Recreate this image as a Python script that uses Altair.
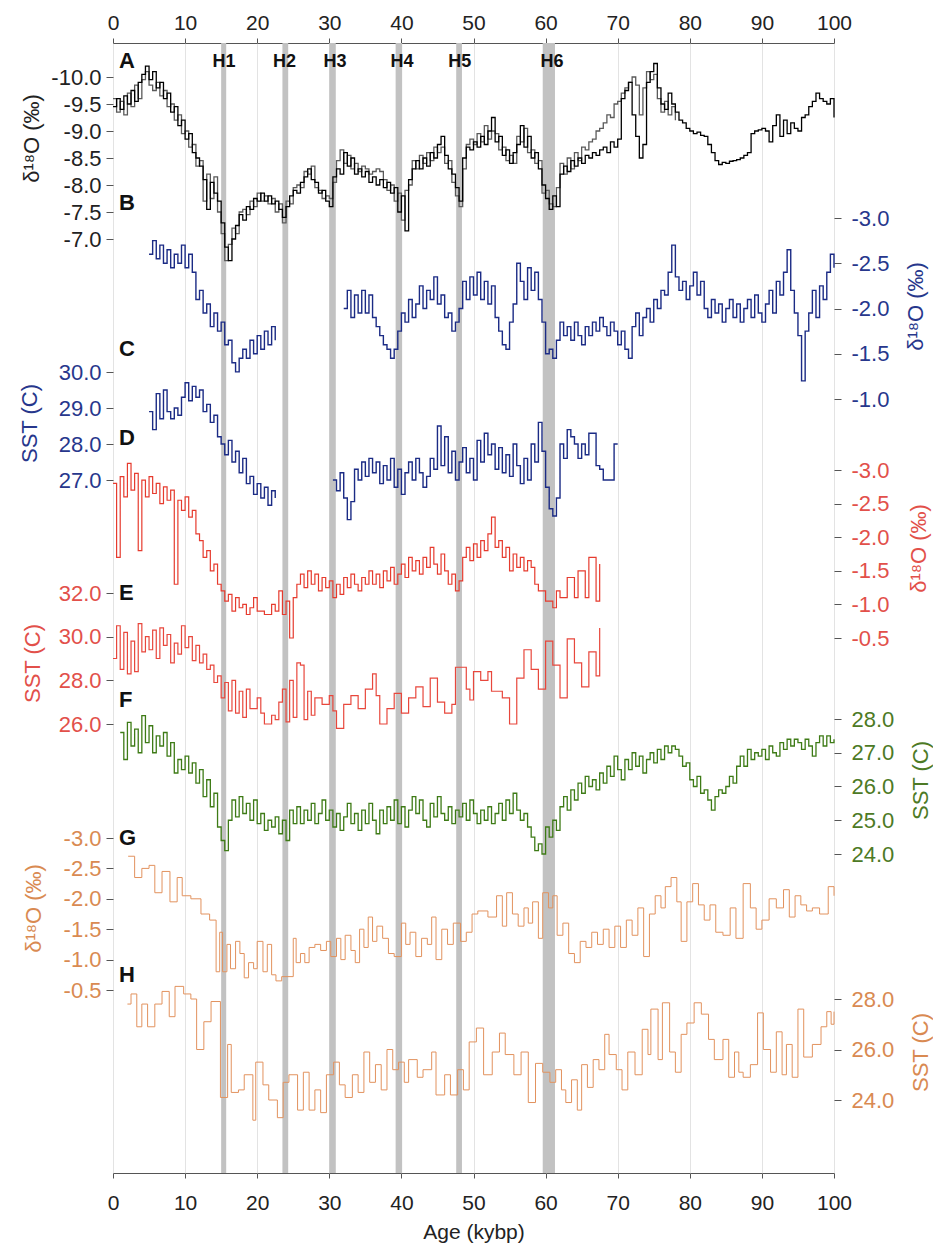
import altair as alt
import pandas as pd

FONT = "Liberation Sans"

# ---------------- data ----------------
AGE_TICKS = [0, 10, 20, 30, 40, 50, 60, 70, 80, 90, 100]
EVENT_NAMES = ["H1", "H2", "H3", "H4", "H5", "H6"]
EVENT_START = [15.0, 23.5, 30.0, 39.2, 47.6, 59.6]
EVENT_END = [15.7, 24.3, 30.9, 40.1, 48.4, 61.3]
EVENT_LABEL_AGE = [15.4, 23.8, 30.8, 40.1, 48.1, 60.9]
PANEL_LETTERS = ["A", "B", "C", "D", "E", "F", "G", "H"]

A_TICKS = [-10.0, -9.5, -9.0, -8.5, -8.0, -7.5, -7.0]
B_TICKS = [-3.0, -2.5, -2.0, -1.5, -1.0]
C_TICKS = [30.0, 29.0, 28.0, 27.0]
D_TICKS = [-3.0, -2.5, -2.0, -1.5, -1.0, -0.5]
E_TICKS = [32.0, 30.0, 28.0, 26.0]
F_TICKS = [28.0, 27.0, 26.0, 25.0, 24.0]
G_TICKS = [-3.0, -2.5, -2.0, -1.5, -1.0, -0.5]
H_TICKS = [28.0, 26.0, 24.0]

# A: d18O record (two overlapping curves)
A1 = [(0,-9.45),(0.5,-9.6),(1,-9.4),(1.5,-9.65),(2,-9.5),(2.5,-9.75),(3,-9.55),(3.5,-9.9),(4,-10.05),(4.5,-10.2),
(5,-9.95),(5.5,-10.1),(6,-9.8),(6.5,-9.9),(7,-9.6),(7.5,-9.7),(8,-9.35),(8.5,-9.45),(9,-9.1),(9.5,-9.2),
(10,-8.85),(10.5,-8.95),(11,-8.6),(11.5,-8.5),(12,-8.35),(12.5,-8.1),(13,-7.55),(13.5,-8.05),(14,-7.85),(14.5,-7.7),
(15,-7.3),(15.5,-6.85),(16,-6.6),(16.5,-7.0),(17,-7.25),(17.5,-7.45),(18,-7.35),(18.5,-7.6),(19,-7.55),(19.5,-7.75),
(20,-7.7),(20.5,-7.85),(21,-7.7),(21.5,-7.8),(22,-7.65),(22.5,-7.7),(23,-7.55),(23.5,-7.4),(24,-7.6),(24.5,-7.8),
(25,-7.9),(25.5,-7.85),(26,-8.05),(26.5,-8.15),(27,-8.3),(27.5,-8.1),(28,-8.05),(28.5,-7.85),(29,-7.9),(29.5,-7.7),
(30,-7.6),(30.5,-8.15),(31,-8.3),(31.5,-8.2),(32,-8.6),(32.5,-8.35),(33,-8.5),(33.5,-8.2),(34,-8.3),(34.5,-8.15),
(35,-8.25),(35.5,-8.05),(36,-8.15),(36.5,-8.0),(37,-8.1),(37.5,-7.95),(38,-8.05),(38.5,-7.85),(39,-7.95),(39.5,-7.5),
(40,-7.8),(40.5,-7.15),(41,-8.1),(41.5,-8.3),(42,-8.45),(42.5,-8.3),(43,-8.5),(43.5,-8.35),(44,-8.6),(44.5,-8.5),
(45,-8.75),(45.5,-8.9),(46,-8.55),(46.5,-8.3),(47,-8.2),(47.5,-7.95),(48,-7.7),(48.5,-8.5),(49,-8.7),(49.5,-8.65),
(50,-8.8),(50.5,-8.7),(51,-8.9),(51.5,-8.75),(52,-9.0),(52.5,-9.25),(53,-8.8),(53.5,-8.9),(54,-8.55),(54.5,-8.65),
(55,-8.4),(55.5,-8.6),(56,-8.75),(56.5,-9.1),(57,-8.7),(57.5,-8.9),(58,-8.5),(58.5,-8.6),(59,-8.3),(59.5,-8.0),
(60,-7.75),(60.5,-7.55),(61,-7.8),(61.5,-7.6),(62,-8.2),(62.5,-8.35),(63,-8.25),(63.5,-8.45),(64,-8.35),(64.5,-8.5),
(65,-8.4),(65.5,-8.55),(66,-8.5),(66.5,-8.6),(67,-8.55),(67.5,-8.65),(68,-8.7),(68.5,-8.6),(69,-8.8),(69.5,-8.7),
(70,-8.85),(70.5,-9.6),(71,-9.75),(71.5,-9.9),(72,-9.3),(72.5,-8.9),(73,-8.5),(73.5,-8.75),(74,-9.9),(74.5,-10.1),
(75,-10.25),(75.5,-9.8),(76,-9.5),(76.5,-9.4),(77,-9.7),(77.5,-9.5),(78,-9.35),(78.5,-9.2),(79,-9.15),(79.5,-9.05),
(80,-9.0),(80.5,-8.95),(81,-8.98),(81.5,-8.92),(82,-8.9),(82.5,-8.75),(83,-8.6),(83.5,-8.45),(84,-8.38),(84.5,-8.42),
(85,-8.4),(85.5,-8.44),(86,-8.45),(86.5,-8.47),(87,-8.5),(87.5,-8.55),(88,-8.6),(88.5,-8.95),(89,-9.0),(89.5,-9.02),
(90,-9.05),(90.5,-9.0),(91,-8.8),(91.5,-9.1),(92,-9.3),(92.5,-8.9),(93,-9.2),(93.5,-8.95),(94,-9.15),(94.5,-9.05),
(95,-9.0),(95.5,-9.25),(96,-9.3),(96.5,-9.45),(97,-9.55),(97.5,-9.7),(98,-9.6),(98.5,-9.55),(99,-9.5),(99.5,-9.6),(100,-9.25)]

A2 = [(0,-9.6),(0.5,-9.35),(1,-9.55),(1.5,-9.3),(2,-9.7),(2.5,-9.45),(3,-9.85),(3.5,-9.6),(4,-9.95),(4.5,-10.1),
(5,-9.85),(5.5,-9.75),(6,-9.9),(6.5,-9.65),(7,-9.75),(7.5,-9.45),(8,-9.5),(8.5,-9.2),(9,-9.3),(9.5,-8.95),
(10,-9.0),(10.5,-8.7),(11,-8.75),(11.5,-8.35),(12,-8.45),(12.5,-7.7),(13,-8.2),(13.5,-7.75),(14,-8.15),(14.5,-7.5),
(15,-7.1),(15.5,-6.6),(16,-6.9),(16.5,-7.2),(17,-7.1),(17.5,-7.5),(18,-7.55),(18.5,-7.45),(19,-7.7),(19.5,-7.6),
(20,-7.85),(20.5,-7.7),(21,-7.8),(21.5,-7.65),(22,-7.75),(22.5,-7.5),(23,-7.65),(23.5,-7.3),(24,-7.7),(24.5,-7.65),
(25,-7.95),(25.5,-8.0),(26,-7.95),(26.5,-8.25),(27,-8.2),(27.5,-8.35),(28,-7.95),(28.5,-7.9),(29,-7.75),(29.5,-7.8),
(30,-7.75),(30.5,-8.05),(31,-8.45),(31.5,-8.65),(32,-8.4),(32.5,-8.55),(33,-8.3),(33.5,-8.4),(34,-8.25),(34.5,-8.35),
(35,-8.3),(35.5,-8.2),(36,-8.25),(36.5,-8.3),(37,-8.25),(37.5,-8.1),(38,-7.9),(38.5,-8.0),(39,-7.7),(39.5,-7.85),
(40,-7.35),(40.5,-7.9),(41,-8.0),(41.5,-8.45),(42,-8.3),(42.5,-8.55),(43,-8.4),(43.5,-8.6),(44,-8.45),(44.5,-8.7),
(45,-8.6),(45.5,-8.7),(46,-8.4),(46.5,-8.45),(47,-8.05),(47.5,-7.8),(48,-7.6),(48.5,-8.3),(49,-8.75),(49.5,-8.85),
(50,-8.75),(50.5,-8.95),(51,-8.8),(51.5,-9.1),(52,-8.85),(52.5,-9.0),(53,-8.95),(53.5,-8.65),(54,-8.7),(54.5,-8.45),
(55,-8.55),(55.5,-8.4),(56,-8.9),(56.5,-8.8),(57,-9.05),(57.5,-8.6),(58,-8.65),(58.5,-8.4),(59,-8.45),(59.5,-7.85),
(60,-7.9),(60.5,-7.65),(61,-7.6),(61.5,-7.95),(62,-8.4),(62.5,-8.2),(63,-8.5),(63.5,-8.3),(64,-8.6),(64.5,-8.45),
(65,-8.7),(65.5,-8.65),(66,-8.8),(66.5,-8.85),(67,-9.0),(67.5,-9.05),(68,-9.15),(68.5,-9.3),(69,-9.25),(69.5,-9.5),
(70,-9.55),(70.5,-9.7),(71,-9.8),(71.5,-9.9),(72,-10.0),(72.5,-9.85),(73,-9.3),(73.5,-9.8),(74,-10.1),(74.5,-9.95),
(75,-10.05),(75.5,-9.6),(76,-9.35),(76.5,-9.55),(77,-9.3),(77.5,-9.45),(78,-9.2)]

# B: d18O (two sections)
B1 = [(5,-2.6),(5.5,-2.75),(6,-2.55),(6.5,-2.7),(7,-2.5),(7.5,-2.65),(8,-2.45),(8.5,-2.6),(9,-2.5),(9.5,-2.7),
(10,-2.45),(10.5,-2.6),(11,-2.4),(11.5,-2.1),(12,-2.2),(12.5,-1.95),(13,-2.05),(13.5,-1.8),(14,-1.95),(14.5,-1.75),
(15,-1.85),(15.5,-1.6),(16,-1.65),(16.5,-1.4),(17,-1.3),(17.5,-1.45),(18,-1.55),(18.5,-1.45),(19,-1.65),(19.5,-1.5),
(20,-1.7),(20.5,-1.55),(21,-1.75),(21.5,-1.6),(22,-1.8),(22.5,-1.65)]
B2 = [(32,-2.0),(32.5,-2.2),(33,-1.9),(33.5,-2.15),(34,-1.95),(34.5,-2.2),(35,-1.95),(35.5,-2.15),(36,-1.9),(36.5,-1.8),
(37,-1.7),(37.5,-1.6),(38,-1.55),(38.5,-1.45),(39,-1.55),(39.5,-1.75),(40,-1.95),(40.5,-1.85),(41,-2.1),(41.5,-1.9),
(42,-2.05),(42.5,-2.25),(43,-2.0),(43.5,-2.2),(44,-2.1),(44.5,-2.35),(45,-2.05),(45.5,-2.15),(46,-1.9),(46.5,-1.95),
(47,-1.75),(47.5,-1.85),(48,-2.0),(48.5,-2.3),(49,-2.1),(49.5,-2.35),(50,-2.15),(50.5,-2.4),(51,-2.1),(51.5,-2.3),
(52,-2.05),(52.5,-2.25),(53,-1.9),(53.5,-1.75),(54,-1.6),(54.5,-1.55),(55,-1.85),(55.5,-2.05),(56,-2.5),(56.5,-2.3),
(57,-2.1),(57.5,-2.45),(58,-2.2),(58.5,-2.4),(59,-2.1),(59.5,-1.85),(60,-1.5),(60.5,-1.55),(61,-1.45),(61.5,-1.65),
(62,-1.85),(62.5,-1.7),(63,-1.8),(63.5,-1.65),(64,-1.85),(64.5,-1.7),(65,-1.6),(65.5,-1.8),(66,-1.7),(66.5,-1.85),
(67,-1.75),(67.5,-1.9),(68,-1.8),(68.5,-1.7),(69,-1.85),(69.5,-1.75),(70,-1.6),(70.5,-1.75),(71,-1.55),(71.5,-1.45),
(72,-1.8),(72.5,-1.95),(73,-1.7),(73.5,-1.9),(74,-2.0),(74.5,-1.85),(75,-2.1),(75.5,-2.0),(76,-2.2),(76.5,-2.15),
(77,-2.4),(77.5,-2.7),(78,-2.35),(78.5,-2.2),(79,-2.3),(79.5,-2.1),(80,-2.25),(80.5,-2.4),(81,-2.15),(81.5,-2.3),
(82,-2.0),(82.5,-1.9),(83,-2.1),(83.5,-1.95),(84,-2.05),(84.5,-1.85),(85,-2.0),(85.5,-2.1),(86,-1.9),(86.5,-2.05),
(87,-1.85),(87.5,-2.0),(88,-2.1),(88.5,-1.9),(89,-2.15),(89.5,-1.95),(90,-1.85),(90.5,-2.05),(91,-2.2),(91.5,-1.95),
(92,-2.3),(92.5,-2.15),(93,-2.4),(93.5,-2.65),(94,-2.2),(94.5,-1.95),(95,-1.7),(95.5,-1.2),(96,-1.75),(96.5,-1.95),
(97,-2.2),(97.5,-1.9),(98,-2.25),(98.5,-2.1),(99,-2.4),(99.5,-2.6),(100,-2.45)]

# C: SST (two sections)
C1 = [(5,28.9),(5.5,28.4),(6,29.4),(6.5,28.7),(7,29.5),(7.5,28.9),(8,28.7),(8.5,29.0),(9,28.8),(9.5,29.3),
(10,29.7),(10.5,29.2),(11,29.6),(11.5,29.3),(12,29.5),(12.5,28.9),(13,29.1),(13.5,28.6),(14,28.8),(14.5,28.2),
(15,28.0),(15.5,27.7),(16,28.1),(16.5,27.5),(17,27.8),(17.5,27.2),(18,27.6),(18.5,26.9),(19,27.1),(19.5,26.6),
(20,26.9),(20.5,26.5),(21,26.8),(21.5,26.3),(22,26.7),(22.5,26.5)]
C2 = [(30.5,27.0),(31,26.7),(31.5,27.2),(32,26.5),(32.5,25.9),(33,26.4),(33.5,27.3),(34,27.0),(34.5,27.5),(35,27.1),
(35.5,27.6),(36,27.2),(36.5,27.5),(37,26.9),(37.5,27.4),(38,27.0),(38.5,27.6),(39,26.8),(39.5,27.3),(40,26.6),
(40.5,27.2),(41,27.5),(41.5,27.0),(42,27.6),(42.5,27.2),(43,26.8),(43.5,27.1),(44,27.6),(44.5,27.3),(45,28.5),
(45.5,27.4),(46,28.2),(46.5,27.2),(47,27.8),(47.5,27.0),(48,27.5),(48.5,27.9),(49,27.2),(49.5,27.6),(50,27.0),
(50.5,28.1),(51,27.5),(51.5,28.3),(52,27.7),(52.5,28.0),(53,27.3),(53.5,27.9),(54,27.2),(54.5,27.7),(55,27.1),
(55.5,28.0),(56,27.4),(56.5,26.9),(57,27.6),(57.5,27.0),(58,28.0),(58.5,27.5),(59,28.6),(59.5,27.8),(60,26.8),
(60.5,26.2),(61,26.0),(61.5,26.5),(62,28.0),(62.5,27.6),(63,28.4),(63.5,28.2),(64,28.0),(64.5,27.6),(65,28.0),
(65.5,27.7),(66,28.3),(66.5,28.3),(67,27.4),(67.5,27.3),(68,27.0),(68.5,27.0),(69,27.0),(69.5,28.0),(70,28.0)]

# D: d18O
D = [(0,-2.8),(0.5,-1.7),(1,-2.9),(1.5,-2.6),(2,-3.1),(2.5,-2.7),(3,-2.95),(3.5,-1.8),(4,-2.85),(4.5,-2.6),
(5,-2.9),(5.5,-2.65),(6,-2.8),(6.5,-2.5),(7,-2.75),(7.5,-2.55),(8,-2.7),(8.5,-1.3),(9,-2.55),(9.5,-2.4),
(10,-2.6),(10.5,-2.3),(11,-2.4),(11.5,-2.05),(12,-1.95),(12.5,-1.7),(13,-1.8),(13.5,-1.5),(14,-1.6),(14.5,-1.3),
(15,-1.2),(15.5,-1.05),(16,-1.15),(16.5,-0.9),(17,-1.1),(17.5,-0.95),(18,-1.0),(18.5,-0.85),(19,-0.95),(19.5,-1.1),
(20,-0.9),(21,-0.85),(22,-1.0),(22.5,-0.9),(23,-1.2),(23.5,-0.85),(24,-1.05),(24.5,-0.5),(25,-1.1),(25.5,-1.3),
(26,-1.45),(26.5,-1.25),(27,-1.5),(27.5,-1.3),(28,-1.45),(28.5,-1.2),(29,-1.4),(29.5,-1.25),(30,-1.35),(30.5,-1.1),
(31,-1.3),(31.5,-1.15),(32,-1.4),(32.5,-1.25),(33,-1.45),(33.5,-1.3),(34,-1.2),(34.5,-1.4),(35,-1.3),(35.5,-1.5),
(36,-1.3),(36.5,-1.45),(37,-1.25),(37.5,-1.5),(38,-1.35),(38.5,-1.55),(39,-1.3),(39.5,-1.45),(40,-1.6),(40.5,-1.4),
(41,-1.7),(41.5,-1.5),(42,-1.65),(42.5,-1.45),(43,-1.7),(43.5,-1.55),(44,-1.85),(44.5,-1.6),(45,-1.45),(45.5,-1.75),
(46,-1.5),(46.5,-1.3),(47,-1.45),(47.5,-1.2),(48,-1.35),(48.5,-1.7),(49,-1.85),(49.5,-1.65),(50,-1.9),(50.5,-1.7),
(51,-1.95),(51.5,-1.8),(52,-2.05),(52.5,-2.3),(53,-1.85),(53.5,-1.95),(54,-1.7),(54.5,-1.85),(55,-1.5),(55.5,-1.75),
(56,-1.55),(56.5,-1.7),(57,-1.5),(57.5,-1.65),(58,-1.55),(58.5,-1.3),(59,-1.2),(60,-1.05),(61,-0.95),(61.5,-1.2),
(62,-1.1),(63,-1.4),(64,-1.1),(64.5,-1.5),(65.5,-1.1),(66,-1.7),(67,-1.05),(67.5,-1.6)]

# E: SST
E = [(0,29.0),(0.5,30.5),(1,28.5),(1.5,30.2),(2,28.3),(2.5,29.8),(3,28.4),(3.5,30.6),(4,29.3),(4.5,30.0),
(5,29.4),(5.5,30.3),(6,29.0),(6.5,30.4),(7,29.6),(7.5,30.1),(8,28.8),(8.5,29.7),(9,29.2),(9.5,30.5),
(10,29.5),(10.5,30.0),(11,28.9),(11.5,29.6),(12,28.8),(12.5,29.2),(13,28.5),(13.5,28.7),(14,27.9),(14.5,28.2),
(15,27.2),(15.5,27.9),(16,26.6),(16.5,28.0),(17,26.5),(17.5,27.5),(18,26.3),(18.5,27.6),(19,26.7),(20,27.2),
(20.5,26.5),(21,26.0),(22,26.4),(22.5,26.2),(23,27.0),(23.5,27.6),(24,26.1),(24.5,28.0),(25,26.3),(25.5,28.8),
(26,28.7),(26.5,26.2),(27,27.5),(27.5,26.4),(28,27.2),(29,26.9),(30,27.3),(30.5,26.6),(31,25.8),(32,26.9),
(33,27.3),(34,26.7),(35,27.6),(36,28.3),(36.5,27.3),(37,26.0),(38,26.7),(39,27.4),(40,26.5),(41,27.2),
(42,27.7),(43,26.8),(44,28.1),(45,27.0),(46,26.5),(47,26.9),(47.5,28.6),(49,27.6),(49.5,27.1),(50,28.4),
(51,28.0),(52,28.4),(52.5,27.5),(54,27.2),(55,26.0),(56,28.1),(57,29.4),(58,28.5),(59,27.6),(60,29.8),
(61,28.7),(62,27.2),(63,29.9),(64,28.8),(65,27.7),(66,29.3),(67,28.2),(67.5,30.4)]

# F: SST
F = [(1,27.6),(1.5,26.8),(2,27.9),(2.5,27.2),(3,27.7),(3.5,27.0),(4,28.1),(4.5,27.3),(5,27.8),(5.5,27.0),
(6,27.5),(6.5,27.2),(7,27.6),(7.5,26.9),(8,27.3),(8.5,26.4),(9,26.8),(9.5,26.5),(10,26.9),(10.5,26.4),
(11,26.7),(11.5,26.1),(12,26.5),(12.5,25.7),(13,26.2),(13.5,25.4),(14,25.8),(14.5,24.8),(15,24.4),(15.5,24.1),
(16,25.0),(16.5,25.6),(17,25.1),(17.5,25.7),(18,25.2),(18.5,25.5),(19,25.0),(19.5,25.6),(20,24.9),(20.5,25.2),
(21,24.7),(21.5,25.0),(22,24.8),(22.5,25.1),(23,24.6),(23.5,25.0),(24,24.4),(24.5,25.3),(25,24.9),(25.5,25.4),
(26,24.9),(26.5,25.3),(27,25.0),(27.5,25.5),(28,24.9),(28.5,25.2),(29,25.6),(29.5,25.0),(30,25.3),(30.5,24.8),
(31,25.2),(31.5,24.7),(32,25.1),(32.5,25.5),(33,24.9),(33.5,25.2),(34,24.7),(34.5,25.3),(35,24.9),(35.5,25.5),
(36,25.0),(36.5,24.6),(37,25.3),(37.5,24.9),(38,25.4),(38.5,25.0),(39,25.6),(39.5,24.9),(40,25.4),(40.5,24.8),
(41,25.3),(41.5,25.7),(42,25.2),(42.5,25.6),(43,25.0),(43.5,24.8),(44,25.5),(44.5,25.1),(45,25.7),(45.5,25.2),
(46,25.0),(46.5,25.4),(47,24.9),(47.5,25.3),(48,25.1),(48.5,25.5),(49,25.0),(49.5,25.6),(50,25.2),(50.5,24.9),
(51,25.3),(51.5,25.0),(52,25.4),(52.5,24.9),(53,25.2),(53.5,25.5),(54,25.0),(54.5,25.6),(55,25.2),(55.5,25.8),
(56,25.3),(56.5,25.0),(57,25.2),(57.5,24.8),(58,24.5),(58.5,24.1),(59,24.3),(59.5,24.0),(60,24.8),(60.5,24.5),
(61,25.0),(61.5,24.7),(62,25.4),(62.5,25.7),(63,25.3),(63.5,25.9),(64,25.6),(64.5,26.1),(65,25.8),(65.5,26.3),
(66,26.0),(66.5,26.2),(67,25.9),(67.5,26.4),(68,26.1),(68.5,26.6),(69,26.3),(69.5,26.9),(70,26.5),(70.5,26.2),
(71,26.8),(71.5,26.5),(72,27.0),(72.5,26.6),(73,26.9),(73.5,26.4),(74,26.8),(74.5,27.0),(75,26.7),(75.5,27.1),
(76,26.8),(76.5,27.2),(77,27.0),(77.5,27.2),(78,27.1),(78.5,26.9),(79,26.6),(79.5,26.7),(80,26.2),(80.5,26.0),
(81,26.3),(81.5,25.8),(82,25.9),(82.5,25.6),(83,25.3),(83.5,25.7),(84,25.9),(84.5,25.8),(85,26.0),(85.5,26.3),
(86,26.1),(86.5,26.6),(87,26.9),(87.5,26.6),(88,27.1),(88.5,26.8),(89,27.0),(89.5,26.9),(90,27.1),(90.5,26.8),
(91,27.2),(91.5,27.0),(92,26.9),(92.5,27.3),(93,27.1),(93.5,27.4),(94,27.2),(94.5,27.4),(95,27.3),(95.5,27.1),
(96,27.4),(96.5,27.2),(97,26.9),(97.5,27.3),(98,27.5),(98.5,27.2),(99,27.5),(99.5,27.3),(100,27.4)]

# G: d18O (low resolution steps)
G = [(2.1,-2.7),(3.0,-2.35),(4.0,-2.5),(5.0,-2.55),(5.8,-2.1),(6.8,-2.45),(7.9,-1.95),(8.9,-2.35),(9.6,-2.05),(10.8,-2.0),
(12.2,-1.75),(13.4,-1.65),(14.3,-0.8),(14.8,-1.45),(15.2,-0.8),(15.8,-1.25),(16.3,-0.85),(17.0,-1.3),(17.6,-1.1),(18.2,-0.7),
(18.8,-0.95),(19.5,-0.85),(20.0,-1.3),(20.8,-0.8),(21.4,-1.25),(22.0,-0.75),(22.6,-0.65),(23.4,-0.72),(25.0,-1.35),(25.4,-0.95),
(26.0,-1.1),(26.6,-0.95),(27.2,-1.2),(28.0,-1.25),(28.8,-1.15),(29.6,-1.3),(30.2,-1.05),(31.0,-1.35),(31.6,-1.0),(32.2,-1.4),
(33.0,-1.15),(33.6,-0.95),(34.2,-1.5),(34.8,-1.2),(35.4,-1.7),(36.0,-1.3),(36.6,-1.55),(37.4,-1.35),(38.2,-1.1),(39.0,-1.05),
(40.0,-1.6),(40.6,-1.25),(41.2,-1.45),(42.0,-1.05),(42.8,-1.35),(43.6,-1.25),(44.2,-1.7),(44.8,-1.0),(45.6,-1.5),(46.4,-1.25),
(47.2,-1.6),(48.2,-1.3),(49.0,-1.45),(49.8,-1.75),(50.6,-1.8),(52.0,-1.7),(53.2,-2.05),(54.0,-1.55),(54.6,-2.1),(55.4,-1.75),
(56.2,-1.55),(57.0,-1.85),(57.6,-1.6),(58.2,-1.95),(59.0,-1.35),(59.6,-2.1),(60.4,-1.85),(61.0,-2.05),(61.6,-1.4),(62.4,-1.6),
(63.2,-1.1),(64.0,-0.95),(64.8,-1.3),(65.6,-1.2),(66.4,-1.45),(67.2,-1.25),(68.0,-1.5),(68.8,-1.2),(69.6,-1.55),(70.4,-1.2),
(71.2,-1.65),(72.0,-1.4),(72.8,-1.85),(73.6,-1.05),(74.4,-1.75),(75.2,-2.05),(76.0,-1.85),(76.6,-2.2),(77.4,-2.35),(78.2,-1.95),
(78.8,-1.3),(79.6,-1.95),(80.4,-2.25),(81.2,-1.9),(82.0,-1.65),(82.8,-1.9),(83.6,-1.45),(84.6,-1.4),(85.6,-1.85),(86.4,-1.35),
(87.4,-2.25),(88.4,-1.85),(89.2,-1.5),(90.0,-1.65),(91.0,-2.0),(92.0,-1.85),(93.0,-2.15),(93.8,-1.7),(94.6,-2.05),(95.4,-1.9),
(96.2,-1.8),(97.0,-1.85),(98.0,-1.75),(99.2,-2.2),(100.0,-2.05)]

# H: SST (low resolution steps)
H = [(2.0,27.8),(2.5,28.2),(3.3,26.9),(4.0,27.8),(4.8,26.9),(5.8,27.8),(6.8,28.3),(7.8,27.3),(8.6,28.5),(9.8,28.2),
(10.8,28.0),(11.6,26.0),(12.6,27.1),(13.6,27.9),(14.9,24.1),(15.9,26.2),(16.4,24.3),(17.4,24.4),(18.2,25.0),(19.4,23.2),
(19.8,25.5),(20.8,24.6),(21.6,24.0),(22.8,23.3),(23.6,24.7),(24.4,25.0),(25.6,23.6),(26.4,25.1),(27.2,23.6),(28.0,24.4),
(28.8,23.5),(29.6,25.0),(30.6,25.5),(31.4,24.6),(32.2,24.1),(33.2,25.0),(34.0,24.3),(34.8,25.9),(35.6,24.7),(36.4,25.4),
(37.2,24.4),(38.0,26.0),(38.8,25.2),(39.6,25.5),(40.4,24.7),(41.0,25.6),(42.2,24.9),(43.0,25.2),(44.2,25.9),(44.8,24.2),
(46.0,25.0),(46.8,24.2),(47.8,25.2),(48.6,24.4),(49.4,26.3),(50.4,26.85),(51.4,25.0),(52.6,25.9),(53.6,26.65),(54.4,25.8),
(55.6,25.0),(56.6,25.9),(57.6,23.9),(58.6,25.45),(59.6,25.1),(60.6,24.7),(61.4,25.2),(62.2,24.4),(62.8,23.9),(63.6,24.8),
(64.4,23.6),(65.0,25.4),(65.8,24.5),(66.6,25.6),(67.4,25.2),(68.2,26.6),(68.8,25.8),(69.8,25.2),(70.6,24.4),(71.4,25.9),
(72.4,25.0),(73.4,26.8),(74.2,25.8),(74.6,27.6),(75.6,25.6),(76.2,27.85),(77.2,25.9),(78.0,25.1),(78.8,26.6),(79.6,27.05),
(80.6,27.85),(81.6,27.4),(82.6,26.4),(83.4,25.6),(84.6,26.4),(85.4,24.9),(86.2,25.9),(86.8,25.1),(87.4,24.9),(88.4,25.4),
(89.4,27.45),(90.2,26.0),(91.2,25.1),(92.0,26.7),(92.8,25.0),(93.4,26.2),(94.2,24.9),(95.0,27.6),(95.8,25.7),(97.0,26.2),
(98.2,26.9),(99.0,27.5),(99.6,27.0),(100.0,27.5)]

# ---------------- layout ----------------
W, HT = 721, 1130
TOP = 43
LETTER_PX_Y = [61, 203, 349, 438, 593, 700, 838, 975]

xs = alt.Scale(domain=[0, 100], nice=False, zero=False)
HYPHEN_LABEL = "replace(datum.label, '\u2212', '-')"


def y_scale(v1, p1, v2, p2):
    s = (p2 - p1) / (v2 - v1)
    v_top = v1 + (TOP - p1) / s
    v_bot = v1 + (TOP + HT - p1) / s
    if s > 0:
        return alt.Scale(domain=[v_top, v_bot], reverse=True, nice=False, zero=False)
    return alt.Scale(domain=[v_bot, v_top], nice=False, zero=False)


def frame(sections):
    rows = []
    for k, sec in enumerate(sections):
        for a, v in sec:
            rows.append({"age": a, "val": v, "seg": k})
    return pd.DataFrame(rows)


D18 = "δ¹⁸O (‰)"


def series(sections, color, scale, orient, ticks, title, lab_color, tx, ty, show_axis=True, width=1.0):
    if show_axis:
        ax = alt.Axis(orient=orient, values=ticks, format=".1f", labelExpr=HYPHEN_LABEL,
                      grid=False, domain=False,
                      tickColor="#555", tickSize=7, labelColor=lab_color, labelFont=FONT,
                      labelFontSize=22, labelPadding=5 if orient == "left" else 10,
                      labelOverlap=False, labelFlush=False,
                      title=title, titleColor=lab_color, titleFont=FONT, titleFontSize=22,
                      titleFontWeight="normal", titleAngle=270, titleX=tx, titleY=ty,
                      titleAlign="center", titleBaseline="middle")
    else:
        ax = None
    return alt.Chart(frame(sections)).mark_line(
        color=color, strokeWidth=width, interpolate="step-after"
    ).encode(
        x=alt.X("age:Q", scale=xs, axis=None),
        y=alt.Y("val:Q", scale=scale, axis=ax),
        detail="seg:N",
    )


ev = pd.DataFrame({"name": EVENT_NAMES, "start": EVENT_START, "end": EVENT_END,
                   "mid": EVENT_LABEL_AGE})

bands = alt.Chart(ev).mark_rect(color="#c2c2c2").encode(
    x=alt.X("start:Q", scale=xs,
            axis=alt.Axis(orient="bottom", values=AGE_TICKS, grid=True, gridColor="#e3e3e3",
                          domain=False, tickColor="#555", tickSize=5, labelFont=FONT,
                          labelFontSize=21, labelColor="#222", labelFlush=False,
                          labelPadding=14, title="Age (kybp)", titleFont=FONT,
                          titleFontSize=21, titleFontWeight="normal", titleColor="#222",
                          titlePadding=8)),
    x2="end:Q",
)

ev_text = alt.Chart(ev).mark_text(font=FONT, fontSize=18, fontWeight="bold", color="#111").encode(
    x=alt.X("mid:Q", scale=xs,
            axis=alt.Axis(orient="top", values=AGE_TICKS, grid=False, domain=False,
                          tickColor="#555", tickSize=5, labelFont=FONT, labelFontSize=21,
                          labelColor="#222", labelFlush=False, labelPadding=5, title=None)),
    y=alt.value(62 - TOP),
    text="name:N",
)

NAVY = "#1b2b85"
RED = "#e63b2e"
GREEN = "#3e7b16"
ORANGE = "#e2925e"

layers = [
    bands,
    series([A2], "#5a5a5a", y_scale(-10, 77, -7, 239), "left", A_TICKS, D18, "#222", 0, 0, show_axis=False, width=1.3),
    series([A1], "#000000", y_scale(-10, 77, -7, 239), "left", A_TICKS, D18, "#222", -82, 138 - TOP, width=1.3),
    series([B1, B2], NAVY, y_scale(-3, 218, -1, 399), "right", B_TICKS, D18, "#27378c", 81, 306 - TOP, width=1.4),
    series([C1, C2], NAVY, y_scale(30, 372, 27, 480), "left", C_TICKS, "SST (C)", "#27378c", -84, 423 - TOP, width=1.4),
    series([D], RED, y_scale(-3, 470, -0.5, 638), "right", D_TICKS, D18, "#e2504a", 84, 548 - TOP, width=1.2),
    series([E], "#e8473c", y_scale(32, 593, 26, 724), "left", E_TICKS, "SST (C)", "#e2504a", -81, 663 - TOP, width=1.2),
    series([F], GREEN, y_scale(28, 719, 24, 854), "right", F_TICKS, "SST (C)", "#4d7a25", 86, 780 - TOP, width=1.3),
    series([G], ORANGE, y_scale(-3, 838, -0.5, 990), "left", G_TICKS, D18, "#d98a52", -80, 908 - TOP),
    series([H], ORANGE, y_scale(28, 999, 24, 1100), "right", H_TICKS, "SST (C)", "#d98a52", 86, 1052 - TOP),
    ev_text,
]

for letter, py in zip(PANEL_LETTERS, LETTER_PX_Y):
    layers.append(
        alt.Chart(pd.DataFrame({"t": [letter]})).mark_text(
            font=FONT, fontSize=22, fontWeight="bold", color="#111", align="left", baseline="middle"
        ).encode(x=alt.value(6), y=alt.value(py - TOP), text="t:N")
    )

chart = alt.layer(*layers).resolve_scale(y="independent").resolve_axis(
    x="independent", y="independent"
).properties(
    width=W, height=HT,
    autosize=alt.AutoSizeParams(type="none"),
    padding={"left": 113, "top": TOP, "right": 99, "bottom": 72},
).configure_view(stroke="#555", strokeWidth=1)

chart.save("out.html", embed_options={"renderer": "svg", "actions": False})
